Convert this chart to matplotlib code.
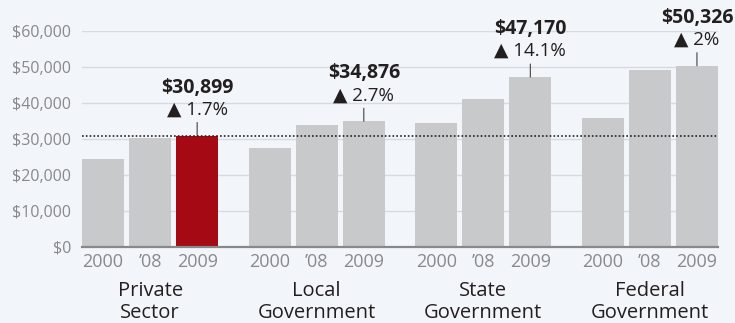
import matplotlib
matplotlib.use("Agg")
import matplotlib.pyplot as plt
import numpy as np

sectors = ["Private\nSector", "Local\nGovernment", "State\nGovernment", "Federal\nGovernment"]
year_labels = ["2000", "\u201908", "2009"]
salaries = [
    [24500, 30300, 30899],
    [27300, 33800, 34876],
    [34400, 41200, 47170],
    [35700, 49200, 50326],
]
changes = ["1.7%", "2.7%", "14.1%", "2%"]
highlight_sector = 0

BACKGROUND = "#f2f5fa"
BAR_GRAY = "#c8c9cb"
BAR_RED = "#a50a14"
TEXT_GRAY = "#88898c"
TEXT_DARK = "#231f20"

plt.rcParams["font.family"] = ["Open Sans", "DejaVu Sans"]

figure = plt.figure(figsize=(7.35, 3.23), dpi=100, facecolor=BACKGROUND)
axes = figure.add_axes([82 / 735, 76.5 / 323, 636 / 735, 215.5 / 323])
axes.set_facecolor(BACKGROUND)

group_step = 3.539
bar_width = 0.894
positions = []
for group_index, values in enumerate(salaries):
    for year_index, value in enumerate(values):
        x = group_index * group_step + year_index
        positions.append(x)
        is_red = group_index == highlight_sector and year_index == 2
        axes.bar(x, value, width=bar_width, color=BAR_RED if is_red else BAR_GRAY,
                 zorder=2)

    x_latest = group_index * group_step + 2
    top = values[2]
    axes.annotate("", xy=(x_latest, top), xycoords="data",
                  xytext=(0, 13), textcoords="offset pixels",
                  arrowprops=dict(arrowstyle="-", color="#555555", lw=0.9,
                                  shrinkA=0, shrinkB=0),
                  annotation_clip=False)
    axes.annotate("\u25b2 " + changes[group_index], xy=(x_latest, top),
                  xytext=(0, 26), textcoords="offset pixels",
                  ha="center", va="center", fontsize=13.5, color=TEXT_DARK,
                  annotation_clip=False)
    axes.annotate(f"${top:,}", xy=(x_latest, top),
                  xytext=(0, 48), textcoords="offset pixels",
                  ha="center", va="center", fontsize=14, fontweight="bold",
                  color=TEXT_DARK, annotation_clip=False)

    center = group_index * group_step + 1
    axes.annotate(sectors[group_index], xy=(center, 0), xycoords=("data", "axes fraction"),
                  xytext=(0, -35), textcoords="offset pixels",
                  ha="center", va="top", fontsize=14.5, color=TEXT_DARK,
                  linespacing=1.12, annotation_clip=False)

# reference line at the private sector 2009 level
axes.axhline(salaries[highlight_sector][2], color="#222222", lw=1.2,
             linestyle=(0, (1, 1.3)), zorder=3)

axes.set_xlim(-bar_width / 2, 3 * group_step + 2 + bar_width / 2)
axes.set_ylim(0, 60000)
axes.set_yticks(np.arange(0, 60001, 10000))
axes.set_yticklabels([f"${v:,}" for v in range(0, 60001, 10000)])
axes.set_xticks(positions)
axes.set_xticklabels(year_labels * len(sectors))
axes.tick_params(axis="both", length=0, colors=TEXT_GRAY)
axes.tick_params(axis="y", labelsize=11.5, pad=8)
axes.tick_params(axis="x", labelsize=13, pad=5)

axes.grid(axis="y", color="#d6dae1", lw=1, zorder=0)
for side in ["top", "right", "left"]:
    axes.spines[side].set_visible(False)
axes.spines["bottom"].set_color("#86888b")
axes.spines["bottom"].set_linewidth(1.6)
axes.spines["bottom"].set_zorder(4)

figure.savefig("out.png", dpi=100, facecolor=BACKGROUND)
plt.close(figure)
